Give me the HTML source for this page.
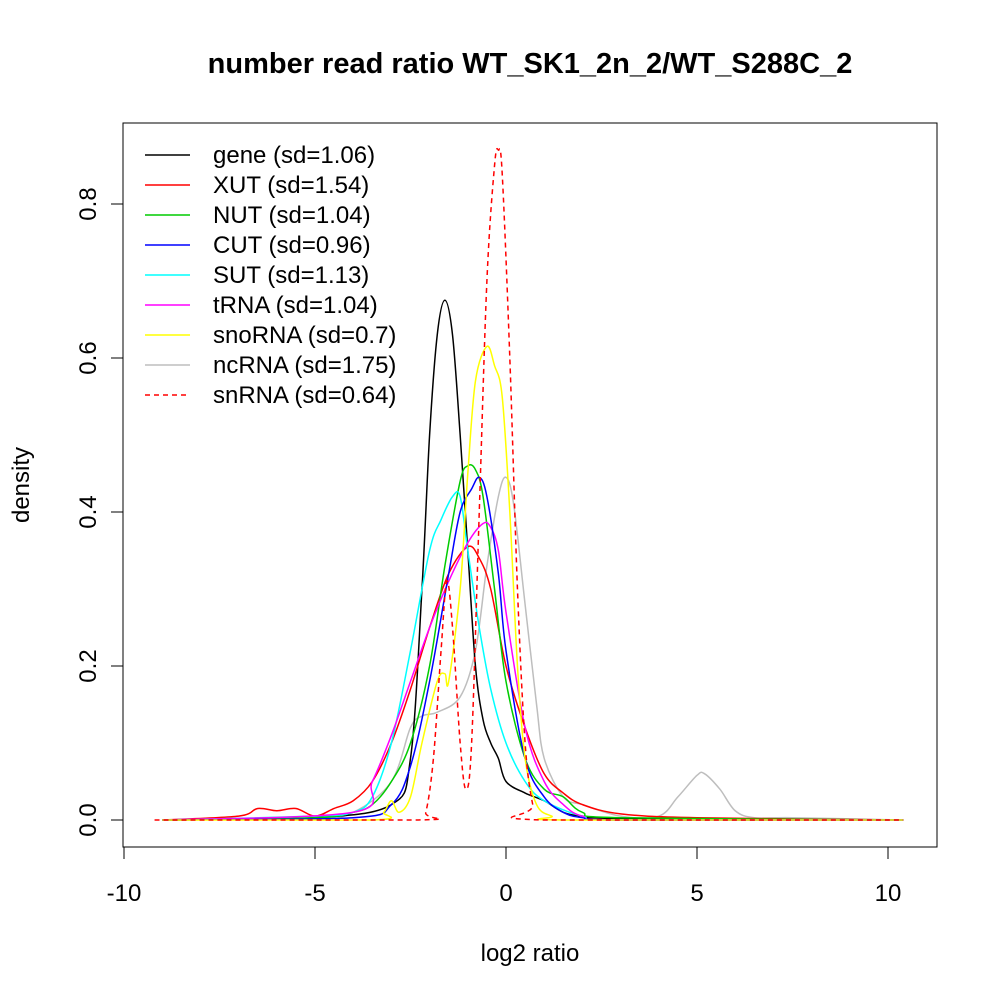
<!DOCTYPE html>
<html><head><meta charset="utf-8"><style>body{margin:0;background:#fff}svg text{font-family:"Liberation Sans",sans-serif}</style></head>
<body>
<svg id="chart" width="1000" height="1000" xmlns="http://www.w3.org/2000/svg">
<rect width="1000" height="1000" fill="#fff"/>
<text x="530" y="73" font-size="29" font-weight="bold" text-anchor="middle">number read ratio WT_SK1_2n_2/WT_S288C_2</text>
<rect x="123" y="123" width="814" height="724" fill="none" stroke="#000" stroke-width="1"/>
<g id="axes"></g>
<g id="series"></g>
<g id="legend"></g>
<text x="530" y="961" font-size="24" text-anchor="middle">log2 ratio</text>
<text x="0" y="0" font-size="24" text-anchor="middle" transform="translate(29,485) rotate(-90)">density</text>
</svg>
<script>
const xTicks=[-10,-5,0,5,10];
const yTicks=[0,0.2,0.4,0.6,0.8];
const yTickLabels=["0.0","0.2","0.4","0.6","0.8"];
const seriesNames=["gene (sd=1.06)","XUT (sd=1.54)","NUT (sd=1.04)","CUT (sd=0.96)","SUT (sd=1.13)","tRNA (sd=1.04)","snoRNA (sd=0.7)","ncRNA (sd=1.75)","snRNA (sd=0.64)"];
const seriesColors=["#000","#f00","#0c0","#00f","#0ff","#f0f","#ff0","#bebebe","#f00"];
const geneX=[-8.8,-5,-3,-2.5,-2.2,-2,-1.8,-1.6,-1.4,-1.2,-1,-0.8,-0.6,-0.4,-0.2,0,0.5,1,1.5,2,3,10.4];
const geneY=[0,0.003,0.02,0.08,0.3,0.5,0.63,0.675,0.63,0.5,0.35,0.2,0.13,0.1,0.08,0.05,0.035,0.025,0.01,0.005,0.002,0];
const xutX=[-9,-7,-6.5,-6,-5.5,-5,-4.5,-4,-3.5,-3,-2.5,-2,-1.5,-1,-0.7,-0.4,0,0.5,1,1.5,2,3,5,10.4];
const xutY=[0,0.005,0.015,0.012,0.015,0.005,0.015,0.025,0.05,0.1,0.17,0.25,0.32,0.355,0.34,0.3,0.2,0.12,0.06,0.035,0.02,0.008,0.003,0];
const nutX=[-9,-5,-4,-3.5,-3,-2.5,-2,-1.6,-1.2,-1,-0.8,-0.6,-0.3,0,0.5,1,1.5,2,3,10.4];
const nutY=[0,0.003,0.01,0.02,0.05,0.1,0.2,0.33,0.44,0.46,0.455,0.42,0.3,0.18,0.08,0.04,0.03,0.01,0.003,0];
const cutX=[-9,-4,-3,-2.5,-2,-1.5,-1.2,-0.9,-0.7,-0.5,-0.2,0,0.5,1,1.5,2,3,10.4];
const cutY=[0,0.003,0.02,0.07,0.18,0.32,0.4,0.43,0.445,0.42,0.32,0.22,0.08,0.03,0.01,0.003,0,0];
const sutX=[-9,-5,-4,-3.5,-3,-2.5,-2,-1.7,-1.4,-1.2,-1,-0.7,-0.4,0,0.5,1,2,3,10.4];
const sutY=[0,0.005,0.01,0.03,0.1,0.22,0.35,0.39,0.42,0.42,0.35,0.25,0.17,0.1,0.05,0.025,0.005,0,0];
const trnaX=[-9,-4,-3.5,-3,-2.5,-2,-1.5,-1,-0.6,-0.4,-0.2,0,0.5,1,1.5,2,3,10.4];
const trnaY=[0,0.01,0.05,0.11,0.18,0.25,0.31,0.36,0.385,0.38,0.35,0.27,0.12,0.05,0.02,0.005,0,0];
const snoX=[-9,-3.5,-3.2,-3,-2.8,-2.5,-2.2,-1.8,-1.6,-1.5,-1.2,-1,-0.8,-0.5,-0.3,-0.1,0.1,0.3,0.5,0.8,1.2,1.6,10.4];
const snoY=[0,0,0.01,0.025,0.01,0.03,0.1,0.18,0.19,0.18,0.3,0.45,0.57,0.615,0.59,0.55,0.4,0.2,0.08,0.02,0.005,0,0];
const ncX=[-9,-5,-4,-3,-2.5,-2.2,-1.8,-1.2,-0.8,-0.5,-0.2,0,0.2,0.5,0.8,1,1.5,2,3,4,4.5,5,5.2,5.6,6,6.5,7.5,10.4];
const ncY=[0,0.003,0.01,0.05,0.12,0.135,0.14,0.16,0.22,0.33,0.42,0.445,0.41,0.28,0.15,0.08,0.03,0.02,0.005,0.005,0.03,0.058,0.06,0.04,0.012,0.003,0.003,0];
const snX=[-9.2,-2.3,-2.1,-1.9,-1.7,-1.55,-1.4,-1.2,-1.05,-0.9,-0.7,-0.5,-0.3,-0.2,-0.1,0.1,0.3,0.5,0.7,0.9,10.4];
const snY=[0,0,0.01,0.08,0.22,0.31,0.25,0.1,0.04,0.1,0.4,0.7,0.85,0.87,0.84,0.6,0.3,0.1,0.02,0,0];
const allX=[geneX,xutX,nutX,cutX,sutX,trnaX,snoX,ncX,snX];
const allY=[geneY,xutY,nutY,cutY,sutY,trnaY,snoY,ncY,snY];
const sx=v=>506+v*38.2, sy=v=>820-v*770;
const NS="http://www.w3.org/2000/svg";
function mk(t,a,p){const e=document.createElementNS(NS,t);for(const k in a)e.setAttribute(k,a[k]);p.appendChild(e);return e;}
const ax=document.getElementById('axes');
let l=mk('line',{x1:sx(-10),x2:sx(10),y1:847,y2:847,stroke:'#000'},ax);


xTicks.forEach(t=>{const g=mk('line',{x1:sx(t),x2:sx(t),y1:847,y2:859,stroke:'#000'},ax);


const tx=mk('text',{x:sx(t),y:901,'font-size':24,'text-anchor':'middle'},ax);tx.textContent=t;

});
l=mk('line',{x1:123,x2:123,y1:sy(0),y2:sy(0.8),stroke:'#000'},ax);


yTicks.forEach((t,i)=>{const g=mk('line',{x1:111,x2:123,y1:sy(t),y2:sy(t),stroke:'#000'},ax);


const tx=mk('text',{x:0,y:0,'font-size':24,'text-anchor':'middle',transform:`translate(96,${sy(t)}) rotate(-90)`},ax);tx.textContent=yTickLabels[i];

});
function path(xs,ys){const p=xs.map((x,i)=>[sx(x),sy(ys[i])]);let d=`M${p[0][0]},${p[0][1]}`;
for(let i=0;i<p.length-1;i++){const p0=p[Math.max(0,i-1)],p1=p[i],p2=p[i+1],p3=p[Math.min(p.length-1,i+2)];
let c1y=p1[1]+(p2[1]-p0[1])/6,c2y=p2[1]-(p3[1]-p1[1])/6;c1y=Math.min(c1y,820);c2y=Math.min(c2y,820);
d+=` C${p1[0]+(p2[0]-p0[0])/6},${c1y} ${p2[0]-(p3[0]-p1[0])/6},${c2y} ${p2[0]},${p2[1]}`;}return d;}
const sg=document.getElementById('series'),lg=document.getElementById('legend');
const order=[7,0,1,2,4,5,3,6,8];
order.forEach(i=>{const e=mk('path',{d:path(allX[i],allY[i]),fill:'none',stroke:seriesColors[i],'stroke-width':1.5},sg);
if(i===8)e.setAttribute('stroke-dasharray','5,4');

});
seriesNames.forEach((n,i)=>{const y=155+i*30;const g=mk('g',{},lg);


const ln=mk('line',{x1:145,x2:190,y1:y,y2:y,stroke:seriesColors[i],'stroke-width':1.5},g);
if(i===8)ln.setAttribute('stroke-dasharray','5,4');
const t=mk('text',{x:213,y:y+8,'font-size':24},g);t.textContent=n;});
</script>
</body></html>
